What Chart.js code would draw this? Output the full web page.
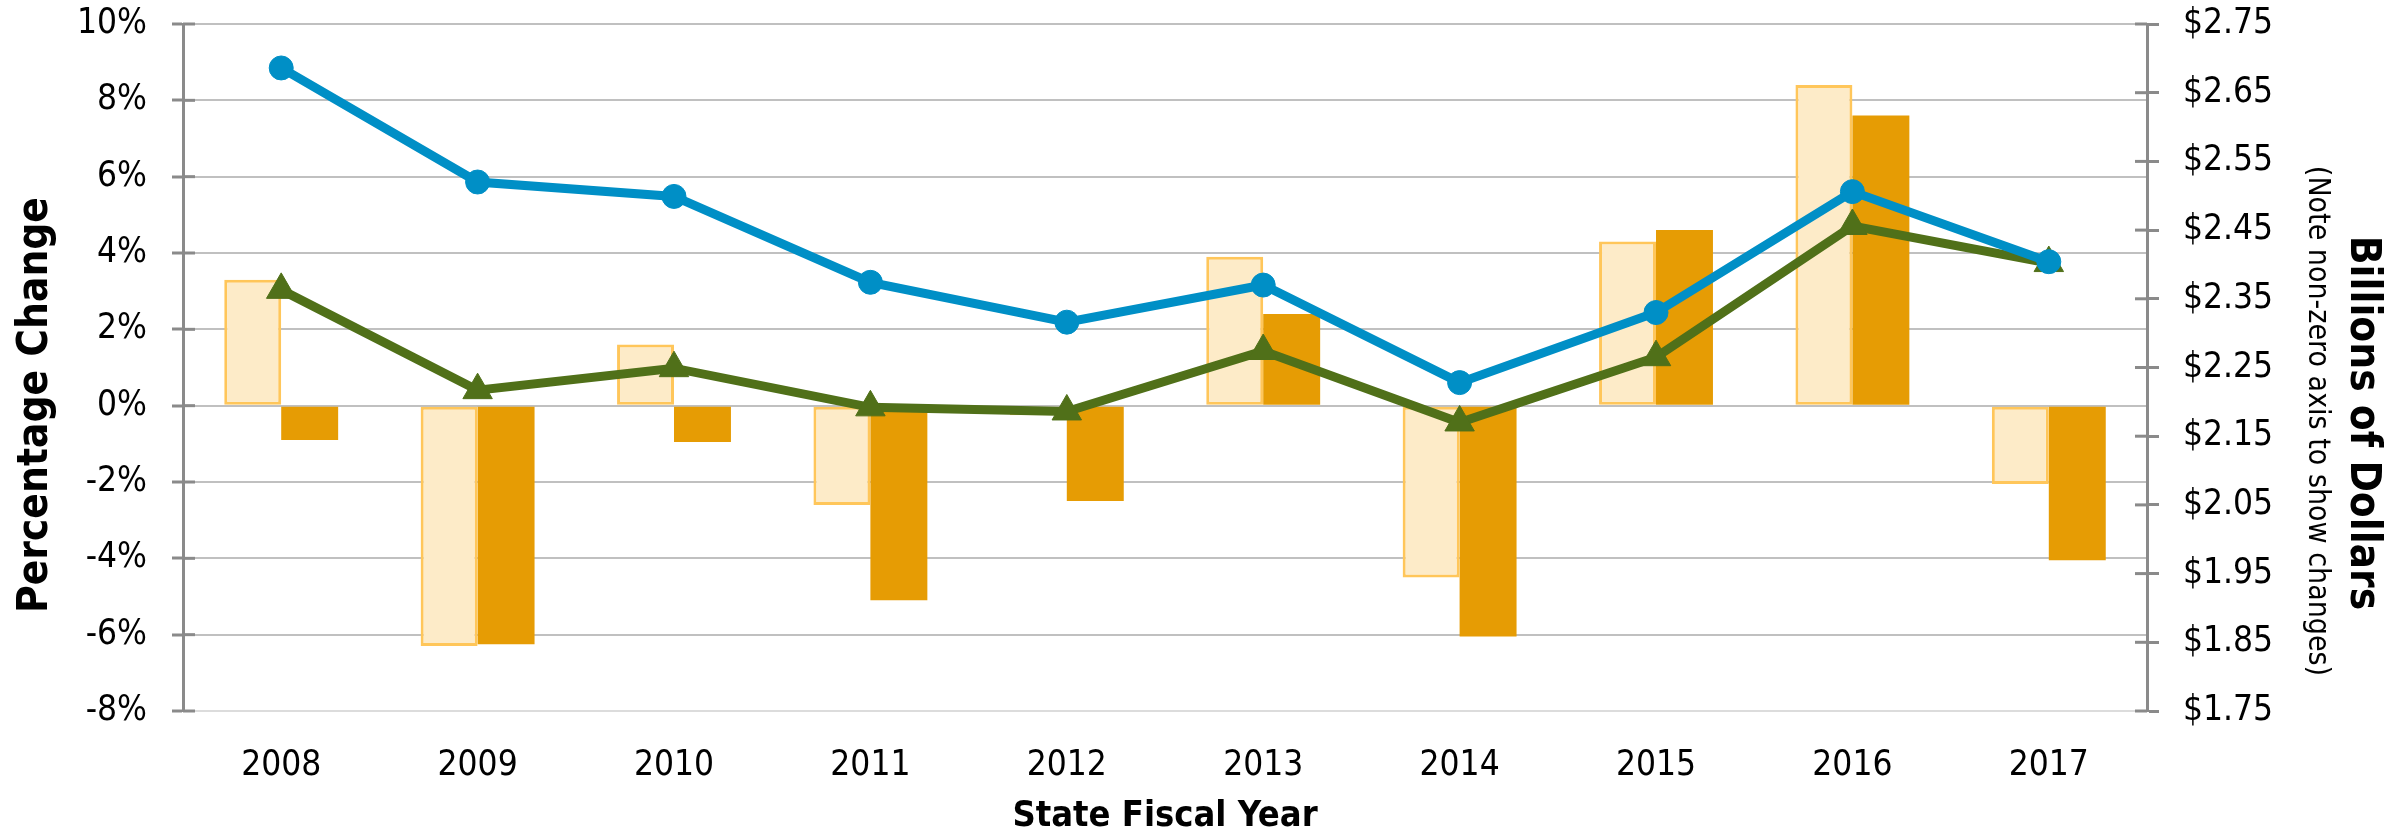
<!DOCTYPE html>
<html>
<head>
<meta charset="utf-8">
<script src="https://cdn.jsdelivr.net/npm/chart.js@4.4.1/dist/chart.umd.min.js"></script>
<style>
  html, body { margin: 0; padding: 0; background: #fff; }
</style>
</head>
<body>
<canvas id="chart" width="2397" height="835"></canvas>
<script>
// fiscal years on the category axis
const years = ['2008', '2009', '2010', '2011', '2012', '2013', '2014', '2015', '2016', '2017']

// bars, percentage change (left axis)
const lightPct = [3.3, -6.3, 1.6, -2.6, -0.25, 3.9, -4.5, 4.3, 8.4, -2.05]
const darkPct = [-0.9, -6.25, -0.95, -5.1, -2.5, 2.4, -6.05, 4.6, 7.6, -4.05]

// lines, billions of dollars (right axis)
const blueBil = [2.686, 2.520, 2.499, 2.374, 2.316, 2.370, 2.228, 2.330, 2.506, 2.404]
const greenBil = [2.363, 2.217, 2.249, 2.192, 2.186, 2.274, 2.170, 2.265, 2.456, 2.402]

// right axis tick values
const dollarTicks = [1.75, 1.85, 1.95, 2.05, 2.15, 2.25, 2.35, 2.45, 2.55, 2.65, 2.75]

const axisGray = '#8a8a8a'
const gridGray = '#c0c0c0'
const condensed = "'DejaVu Sans Condensed', 'DejaVu Sans'"
const tickFont = { family: condensed, size: 35 }

// tick marks that cross the axis line (Excel style)
const crossTicks = {
  id: 'crossTicks',
  beforeDatasetsDraw(chart) {
    const ctx = chart.ctx
    const a = chart.chartArea
    ctx.save()
    ctx.strokeStyle = axisGray
    ctx.lineWidth = 3
    chart.scales.y.ticks.forEach(t => {
      const y = chart.scales.y.getPixelForValue(t.value)
      ctx.beginPath(); ctx.moveTo(a.left, y); ctx.lineTo(a.left + 12, y); ctx.stroke()
    })
    chart.scales.y1.ticks.forEach(t => {
      const y = chart.scales.y1.getPixelForValue(t.value)
      ctx.beginPath(); ctx.moveTo(a.right - 12, y); ctx.lineTo(a.right, y); ctx.stroke()
    })
    ctx.restore()
  }
}

// vertical axis titles
const axisTitles = {
  id: 'axisTitles',
  afterDraw(chart) {
    const ctx = chart.ctx
    ctx.save()
    ctx.fillStyle = '#000'
    ctx.textAlign = 'center'
    ctx.textBaseline = 'middle'

    ctx.font = 'bold 42px ' + condensed
    ctx.save()
    ctx.translate(chart.scales.y.left + 36, 405)
    ctx.rotate(-Math.PI / 2)
    ctx.fillText('Percentage Change', 0, 0)
    ctx.restore()

    ctx.save()
    ctx.translate(chart.scales.y1.right - 35, 423)
    ctx.rotate(Math.PI / 2)
    ctx.fillText('Billions of Dollars', 0, 0)
    ctx.restore()

    ctx.font = '30px ' + condensed
    ctx.save()
    ctx.translate(chart.scales.y1.right - 80, 421)
    ctx.rotate(Math.PI / 2)
    ctx.fillText('(Note non-zero axis to show changes)', 0, 0)
    ctx.restore()

    ctx.restore()
  }
}

new Chart('chart', {
  type: 'bar',
  data: {
    labels: years,
    datasets: [
      {
        type: 'line',
        data: blueBil,
        yAxisID: 'y1',
        order: 0,
        borderColor: '#008fc6',
        backgroundColor: '#008fc6',
        borderWidth: 9,
        pointRadius: 12,
        pointBorderWidth: 1,
        pointBorderColor: '#008fc6',
        tension: 0
      },
      {
        type: 'line',
        data: greenBil,
        yAxisID: 'y1',
        order: 1,
        borderColor: '#507019',
        backgroundColor: '#507019',
        borderWidth: 9,
        pointStyle: 'triangle',
        pointRadius: 17,
        pointBorderWidth: 1,
        pointBorderColor: '#507019',
        tension: 0
      },
      {
        data: lightPct,
        yAxisID: 'y',
        order: 2,
        backgroundColor: '#fdebc8',
        borderColor: '#ffc65a',
        borderWidth: 3,
        borderSkipped: false,
        barPercentage: 1,
        categoryPercentage: 0.58
      },
      {
        data: darkPct,
        yAxisID: 'y',
        order: 3,
        backgroundColor: '#e69c04',
        borderWidth: 0,
        barPercentage: 1,
        categoryPercentage: 0.58
      }
    ]
  },
  options: {
    responsive: false,
    animation: false,
    layout: { padding: { top: 24, left: 0, right: 0, bottom: 0 } },
    plugins: {
      legend: { display: false },
      tooltip: { enabled: false }
    },
    scales: {
      x: {
        grid: { display: false, drawTicks: false },
        border: { display: false },
        ticks: { color: '#000', font: tickFont, padding: 34 },
        title: {
          display: true,
          text: 'State Fiscal Year',
          color: '#000',
          font: { family: condensed, size: 36, weight: 'bold', lineHeight: 1 },
          padding: { top: 0, bottom: 0 }
        },
        afterFit(s) { s.height = 124 }
      },
      y: {
        position: 'left',
        min: -8,
        max: 10,
        ticks: {
          stepSize: 2,
          color: '#000',
          font: tickFont,
          padding: 25,
          callback: v => v + '%'
        },
        grid: {
          color: c => c.tick && c.tick.value === -8 ? '#dcdcdc' : gridGray,
          lineWidth: 2,
          tickColor: axisGray,
          tickWidth: 3,
          tickLength: 11
        },
        border: { color: axisGray, width: 3 },
        afterFit(s) { s.width = 183; s.paddingTop = 0; s.paddingBottom = 0 }
      },
      y1: {
        position: 'right',
        min: 1.75,
        max: 2.75,
        afterBuildTicks(s) { s.ticks = dollarTicks.map(v => ({ value: v })) },
        ticks: {
          color: '#000',
          font: tickFont,
          padding: 24,
          callback: v => '$' + Number(v).toFixed(2)
        },
        grid: {
          drawOnChartArea: false,
          tickColor: axisGray,
          tickWidth: 3,
          tickLength: 12
        },
        border: { color: axisGray, width: 3 },
        afterFit(s) { s.width = 250; s.paddingTop = 0; s.paddingBottom = 0 }
      }
    }
  },
  plugins: [crossTicks, axisTitles]
})
</script>
</body>
</html>
